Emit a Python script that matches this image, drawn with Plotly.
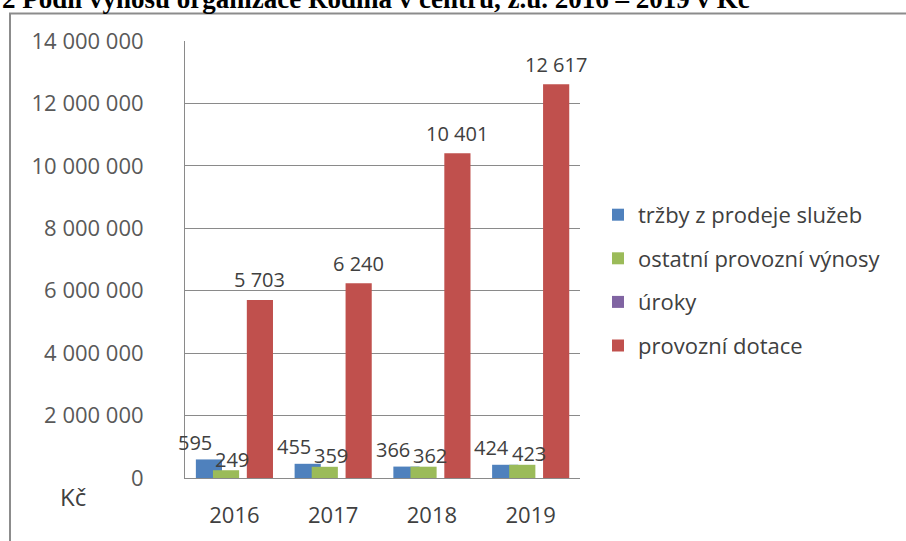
import plotly.graph_objects as go

# Data (values in Kč; labels show thousands)
years = ["2016", "2017", "2018", "2019"]
trzby = [595000, 455000, 366000, 424000]
ostatni = [249000, 359000, 362000, 423000]
uroky = [0, 0, 0, 0]
dotace = [5703000, 6240000, 10401000, 12617000]
series_names = ["tržby z prodeje služeb", "ostatní provozní výnosy", "úroky", "provozní dotace"]
y_ticks = [0, 2000000, 4000000, 6000000, 8000000, 10000000, 12000000, 14000000]
y_tick_text = ["0", "2 000 000", "4 000 000", "6 000 000", "8 000 000",
               "10 000 000", "12 000 000", "14 000 000"]

W, H = 906, 541
L, R, T, B = 185, 580, 41, 484


def px(x):
    return (x - L) / (R - L)


def py(y):
    return (B - y) / (B - T)


def fmt_k(v):
    k = round(v / 1000)
    return f"{k:,}".replace(",", " ")


colors = ["#4F81BD", "#9BBB59", "#8064A2", "#C0504D"]
bar_w = 0.265
offsets = [-0.39, -0.217, -0.044, 0.126]
all_vals = [trzby, ostatni, uroky, dotace]
# label placement per series: (x shift px, lift above bar top px)
label_shift = [(-39, 17), (-2, 11), (0, 0), (25, 20)]

font_main = "Open Sans"
fig = go.Figure()
for i, (name, vals) in enumerate(zip(series_names, all_vals)):
    fig.add_trace(go.Bar(
        x=years, y=vals, name=name,
        marker=dict(color=colors[i], line=dict(width=0)),
        width=bar_w, offset=offsets[i],
        legendgroup=f"g{i}",
    ))
    if i == 2:
        continue
    dx, dy = label_shift[i]
    # category axis positions are indices 0..n-1
    for idx, v in enumerate(vals):
        fig.add_annotation(
            x=idx, y=v, xref="x", yref="y", text=fmt_k(v),
            showarrow=False, xanchor="center", yanchor="middle",
            xshift=dx, yshift=dy,
            font=dict(family=font_main, size=20, color="#404040"),
        )

fig.update_layout(
    width=W, height=H,
    margin=dict(l=L, r=W - R, t=T, b=H - B, pad=0),
    paper_bgcolor="white", plot_bgcolor="white",
    barmode="overlay",
    showlegend=True,
    legend=dict(
        x=px(598), y=py(196), xanchor="left", yanchor="top",
        font=dict(family=font_main, size=22, color="#404040"),
        tracegroupgap=12, itemwidth=30,
        bgcolor="rgba(0,0,0,0)",
    ),
    font=dict(family=font_main, color="#595959"),
)

fig.update_yaxes(
    range=[0, 14000000], tickvals=y_ticks, ticktext=y_tick_text,
    showgrid=True, gridcolor="#8a8a8a", gridwidth=1,
    showline=True, linecolor="#8a8a8a", linewidth=1,
    ticks="", ticklabelstandoff=36,
    tickfont=dict(family=font_main, size=22, color="#595959"),
    zeroline=False, fixedrange=True,
)
fig.update_xaxes(
    type="category", categoryorder="array", categoryarray=years,
    range=[-0.5, len(years) - 0.5],
    showline=True, linecolor="#8a8a8a", linewidth=1,
    ticks="", ticklabelstandoff=18,
    tickfont=dict(family=font_main, size=22, color="#404040"),
    showgrid=False,
)

# outer chart frame
fig.add_shape(type="rect", xref="paper", yref="paper",
              x0=px(10), y0=py(560), x1=px(930), y1=py(13),
              line=dict(color="#8c8c8c", width=2), layer="below")

# heading (partly above the page edge)
fig.add_annotation(
    text="<b>2 Podíl výnosů organizace Rodina v centru, z.ú. 2016 – 2019 v Kč</b>",
    xref="paper", yref="paper", x=px(0), y=py(16),
    xanchor="left", yanchor="bottom", showarrow=False,
    font=dict(family="Liberation Serif", size=27, color="black"),
)

# currency unit under the value axis
fig.add_annotation(
    text="Kč", xref="paper", yref="paper", x=px(73), y=py(503),
    xanchor="center", yanchor="middle", showarrow=False,
    font=dict(family=font_main, size=24, color="#404040"),
)

fig.write_html("out.html")
